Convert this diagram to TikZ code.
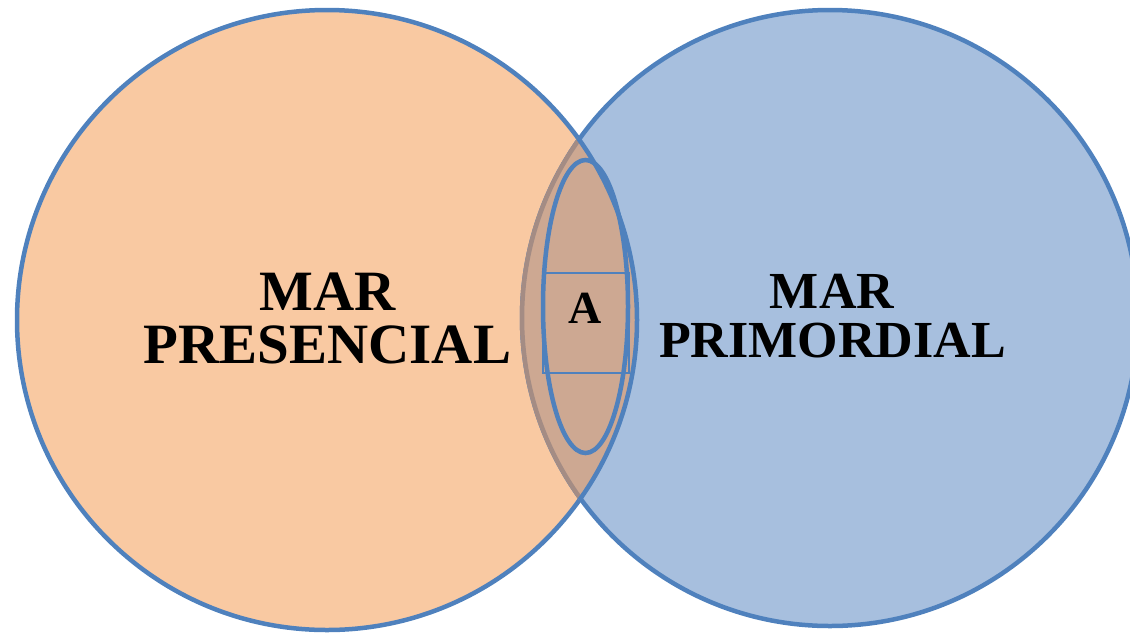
\documentclass[tikz,border=0pt]{standalone}
\usepackage{fontspec}
\newfontfamily\tnr{Liberation Serif}
\definecolor{stroke}{RGB}{79,129,189}
\definecolor{orangefill}{RGB}{249,201,162}
\definecolor{bluefill}{RGB}{167,191,222}
\definecolor{lensfill}{RGB}{205,168,146}
\definecolor{lensedge}{RGB}{164,140,132}
\tikzset{
  setline/.style={draw=stroke, line width=4.5pt},
  bigtext/.style={font=\tnr\bfseries\fontsize{#1}{#1}\selectfont, inner sep=0pt, anchor=base},
}
\begin{document}
\begin{tikzpicture}[x=1pt,y=-1pt]
\useasboundingbox (0,0) rectangle (1130,633);
% circles
\fill[orangefill] (327,320) circle[radius=310];
\draw[setline] (327,320) circle[radius=310];
\fill[bluefill] (830,318) circle[radius=308];
\draw[setline] (830,318) circle[radius=308];
% lens
\begin{scope}
  \clip (327,320) circle[radius=310];
  \fill[lensfill] (830,318) circle[radius=308];
  \draw[draw=lensedge, line width=4.5pt] (830,318) circle[radius=308];
\end{scope}
\begin{scope}
  \clip (830,318) circle[radius=310];
  \draw[setline] (327,320) circle[radius=310];
\end{scope}
% inner ellipse and box
\draw[setline, line width=4.5pt] (585.5,306.5) ellipse[x radius=42.5, y radius=146.5];
\node[draw=stroke, line width=1.5pt, minimum width=86pt, minimum height=100pt, inner sep=0pt] (box) at (586,323) {};
\node[bigtext=46] (a) at (585.5,323) {A};
% labels
\node[bigtext=57] (l1) at (327.5,310) {MAR};
\node[bigtext=57] (l2) at (327.5,363) {PRESENCIAL};
\node[bigtext=52] (r1) at (832,308) {MAR};
\node[bigtext=52] (r2) at (832.5,357) {PRIMORDIAL};
\end{tikzpicture}
\end{document}
